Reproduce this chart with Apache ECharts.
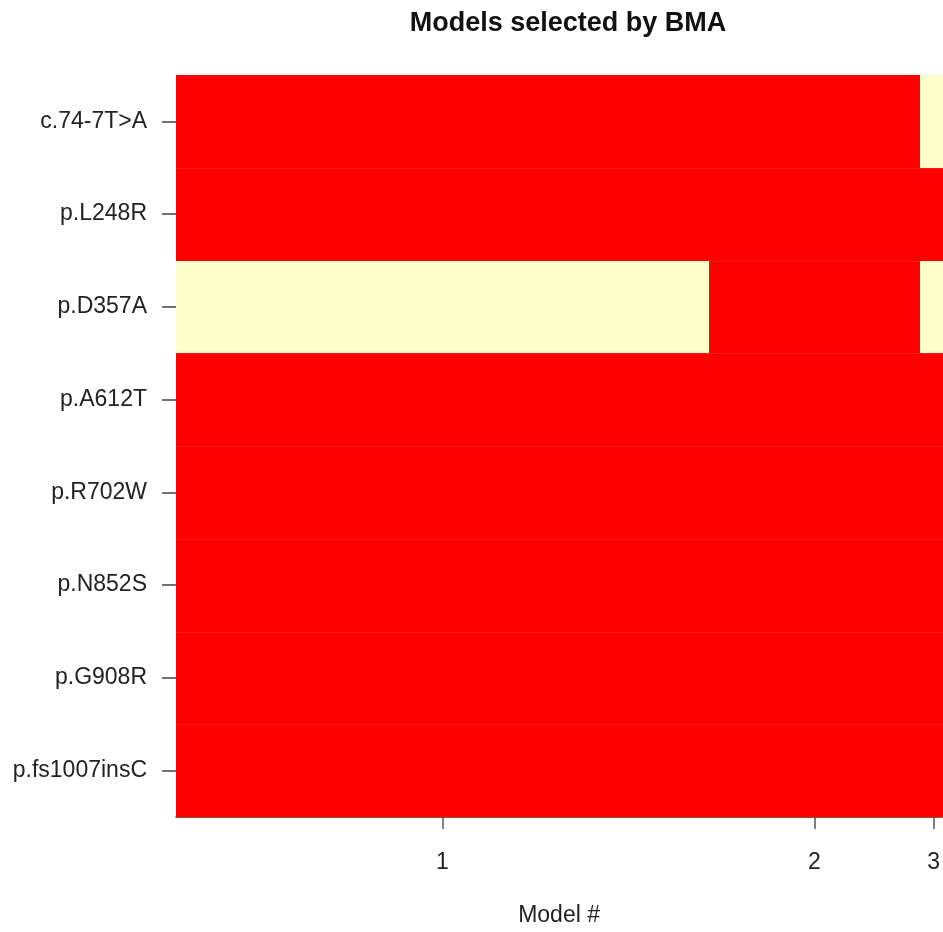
<!DOCTYPE html>
<html><head><meta charset="utf-8">
<script src="https://cdn.jsdelivr.net/npm/echarts@6/dist/echarts.min.js"></script>
<style>html,body{margin:0;padding:0;background:#fff}#c{width:943px;height:932px}</style>
</head><body><div id="c"></div>
<script>
const variables = ['c.74-7T>A','p.L248R','p.D357A','p.A612T','p.R702W','p.N852S','p.G908R','p.fs1007insC'];
const modelLabels = ['1','2','3'];
const modelProbs = [0.690, 0.273, 0.036];
// cumulative probability visible at the right edge of the (cropped) picture
const xVisibleMax = 0.992;
// 1 = variable included in model, 0 = not included (rows follow `variables`)
const model1 = [1,1,0,1,1,1,1,1];
const model2 = [1,1,1,1,1,1,1,1];
const model3 = [0,1,0,1,1,1,1,1];
const models = [model1, model2, model3];

const starts = [];
let acc = 0;
modelProbs.forEach(p => { starts.push(acc); acc += p; });
const mids = modelProbs.map((p, i) => starts[i] + p / 2);
const cells = [];
models.forEach((m, i) => {
  m.forEach((v, j) => cells.push([starts[i], starts[i] + modelProbs[i], j, v]));
});

const FONT = 'Liberation Sans';
const chart = echarts.init(document.getElementById('c'), null, {renderer: 'canvas'});
chart.setOption({
  animation: false,
  backgroundColor: '#ffffff',
  title: {
    text: 'Models selected by BMA',
    left: 563, top: 5, textAlign: 'center',
    textStyle: {fontFamily: FONT, fontWeight: 'bold', fontSize: 27, color: '#111'}
  },
  grid: {left: 176, right: 0, top: 75, bottom: 114},
  xAxis: {
    type: 'value', min: 0, max: xVisibleMax,
    name: 'Model #', nameLocation: 'middle', nameGap: 87,
    nameTextStyle: {fontFamily: FONT, fontSize: 23, color: '#222'},
    axisLine: {show: true, lineStyle: {color: '#6a1515', width: 1.5}},
    axisTick: {show: true, customValues: mids, length: 12, lineStyle: {color: '#555', width: 1.5}},
    axisLabel: {
      customValues: mids, margin: 34,
      fontFamily: FONT, fontSize: 23, color: '#222',
      formatter: v => {
        let best = 0, d = Infinity;
        mids.forEach((m, i) => { if (Math.abs(m - v) < d) { d = Math.abs(m - v); best = i; } });
        return modelLabels[best];
      }
    },
    splitLine: {show: false}
  },
  yAxis: {
    type: 'category', data: variables, inverse: true,
    axisLine: {show: false},
    axisTick: {show: true, alignWithLabel: true, length: 14, lineStyle: {color: '#444', width: 1.5}},
    axisLabel: {margin: 29, padding: [6, 0, 0, 0], fontFamily: FONT, fontSize: 23, color: '#222'},
    splitLine: {show: false}
  },
  series: [{
    type: 'custom',
    clip: true,
    data: cells,
    encode: {x: [0, 1], y: 2},
    renderItem: (params, api) => {
      const p0 = api.coord([api.value(0), api.value(2)]);
      const p1 = api.coord([api.value(1), api.value(2)]);
      const h = api.size([0, 1])[1];
      const inc = api.value(3) === 1;
      const x0 = Math.round(p0[0]), x1 = Math.round(p1[0]);
      const y0 = Math.round(p0[1] - h / 2), y1 = Math.round(p0[1] + h / 2);
      const children = [{
        type: 'rect',
        shape: {x: x0, y: y0, width: x1 - x0, height: y1 - y0},
        style: {fill: inc ? '#ff0000' : '#ffffcc'}
      }];
      if (api.value(2) > 0) {
        children.push({
          type: 'line',
          shape: {x1: x0, y1: y0 + 0.5, x2: x1, y2: y0 + 0.5},
          style: {stroke: 'rgba(255,255,255,0.10)', lineWidth: 1}
        });
      }
      return {type: 'group', children};
    }
  }]
});
</script></body></html>
